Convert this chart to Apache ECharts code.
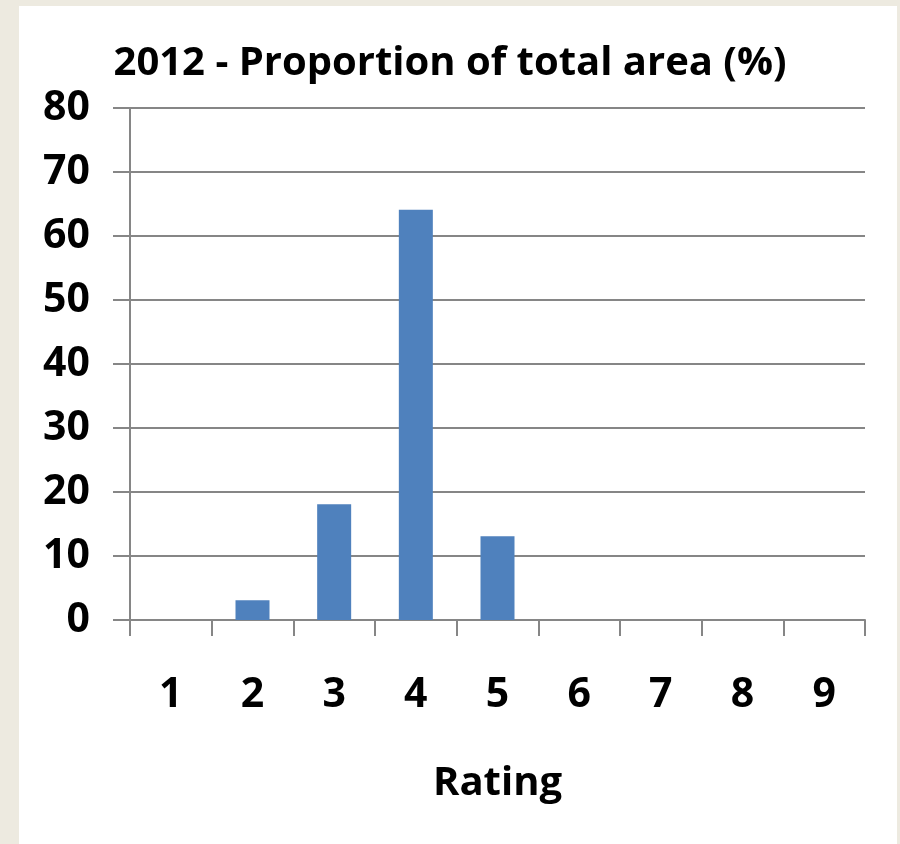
<!DOCTYPE html>
<html>
<head>
<meta charset="utf-8">
<script src="https://cdn.jsdelivr.net/npm/echarts@6/dist/echarts.min.js"></script>
<style>
  html, body { margin: 0; padding: 0; background: #EDEAE0; }
  #chart { width: 900px; height: 844px; }
</style>
</head>
<body>
<div id="chart"></div>
<script>
// Rating categories and share of total area (%) for 2012
const ratings = ['1', '2', '3', '4', '5', '6', '7', '8', '9'];
const areaShare = [0, 3.1, 18.1, 64.1, 13.1, 0, 0, 0, 0];
const yTicks = { min: 0, max: 80, step: 10 };

const FONT = '"Open Sans"';
const GRID_COLOR = '#868686';

const chart = echarts.init(document.getElementById('chart'), null, { renderer: 'canvas' });

chart.setOption({
  backgroundColor: '#EDEAE0',
  animation: false,
  graphic: [{
    type: 'rect',
    z: -10,
    shape: { x: 19, y: 6, width: 878, height: 840 },
    style: { fill: '#FFFFFF' }
  }],
  title: {
    text: '2012 - Proportion of total area (%)',
    left: 'center',
    top: 39,
    textStyle: { fontFamily: FONT, fontWeight: 'bold', fontSize: 40, color: '#000000' }
  },
  grid: { left: 130, right: 35, top: 108, bottom: 224 },
  xAxis: {
    type: 'category',
    data: ratings,
    name: 'Rating',
    nameLocation: 'middle',
    nameGap: 144,
    nameTextStyle: { fontFamily: FONT, fontWeight: 'bold', fontSize: 40, color: '#000000' },
    axisLine: { show: true, lineStyle: { color: GRID_COLOR, width: 2 } },
    axisTick: { show: true, length: 16, alignWithLabel: false, lineStyle: { color: GRID_COLOR, width: 2 } },
    axisLabel: { fontFamily: FONT, fontWeight: 'bold', fontSize: 41, color: '#000000', margin: 55 },
    splitLine: { show: false }
  },
  yAxis: {
    type: 'value',
    min: yTicks.min,
    max: yTicks.max,
    interval: yTicks.step,
    axisLine: { show: true, lineStyle: { color: GRID_COLOR, width: 2 } },
    axisTick: { show: true, length: 17, inside: false, lineStyle: { color: GRID_COLOR, width: 2 } },
    axisLabel: { fontFamily: FONT, fontWeight: 'bold', fontSize: 41, color: '#000000', margin: 40 },
    splitLine: { show: true, lineStyle: { color: GRID_COLOR, width: 2 } }
  },
  series: [{
    type: 'bar',
    data: areaShare,
    barWidth: 34,
    itemStyle: { color: '#4F81BD' }
  }]
});
</script>
</body>
</html>
